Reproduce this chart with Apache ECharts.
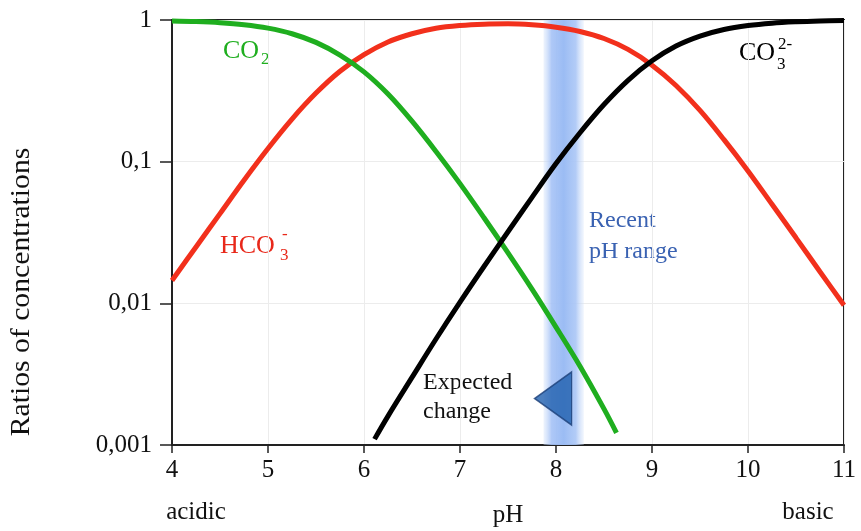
<!DOCTYPE html>
<html>
<head>
<meta charset="utf-8">
<script src="https://cdn.jsdelivr.net/npm/echarts@6/dist/echarts.min.js"></script>
<style>html,body{margin:0;padding:0;background:#fff}#c{width:861px;height:531px}</style>
</head>
<body>
<div id="c"></div>
<script>
// ---- data ----
const pHRed   = [4,4.25,4.5,4.75,5,5.25,5.5,5.75,6,6.25,6.5,6.75,7,7.25,7.5,7.75,8,8.25,8.5,8.75,9,9.25,9.5,9.75,10,10.25,10.5,10.75,11];
const hco3Values = [0.0145,0.025,0.043,0.074,0.124,0.20,0.305,0.435,0.57,0.70,0.80,0.875,0.915,0.935,0.94,0.925,0.89,0.83,0.74,0.62,0.48,0.345,0.23,0.143,0.086,0.050,0.029,0.0167,0.0097];
const pHGreen = [4,4.25,4.5,4.75,5,5.25,5.5,5.75,6,6.25,6.5,6.75,7,7.25,7.5,7.75,8,8.25,8.5,8.63];
const co2Values = [0.985,0.975,0.957,0.926,0.876,0.80,0.695,0.565,0.43,0.30,0.193,0.118,0.07,0.0402,0.0227,0.0126,0.0068,0.0036,0.0018,0.00122];
const pHBlack = [6.11,6.25,6.5,6.75,7,7.25,7.5,7.75,8,8.25,8.5,8.75,9,9.25,9.5,9.75,10,10.25,10.5,10.75,11];
const co3Values = [0.0011,0.0016,0.003,0.0056,0.0102,0.0182,0.032,0.056,0.097,0.16,0.253,0.375,0.515,0.655,0.77,0.857,0.914,0.95,0.971,0.984,0.991];
const recentPHRange = [7.87, 8.29];
const expectedChange = [7.97, 0.00213];
const yTickLabels = {'-3':'0,001','-2':'0,01','-1':'0,1','0':'1'};
const xTicks = [4,5,6,7,8,9,10,11];

const pair = (xs, ys) => xs.map((x,i)=>[x, ys[i]]);
const SERIF = '"Liberation Serif","DejaVu Serif",serif';

const chart = echarts.init(document.getElementById('c'), null, {renderer:'canvas'});
chart.setOption({
  animation:false,
  backgroundColor:'#fff',
  grid:{left:172,right:17,top:20,bottom:86,outerBoundsMode:'none',containLabel:false,show:true,borderColor:'#222',borderWidth:2,backgroundColor:'transparent'},
  xAxis:{
    type:'value',min:xTicks[0],max:xTicks[xTicks.length-1],interval:1,
    name:'pH',nameLocation:'middle',nameGap:58,
    nameTextStyle:{fontFamily:SERIF,fontSize:25,color:'#111'},
    axisLine:{lineStyle:{color:'#222',width:2}},
    axisTick:{length:8,lineStyle:{color:'#222',width:1.5}},
    axisLabel:{fontFamily:SERIF,fontSize:25,color:'#111',margin:13},
    splitLine:{show:true,lineStyle:{color:'#ececec',width:1}}
  },
  yAxis:{
    type:'log',logBase:10,min:0.001,max:1,
    axisLine:{show:true,lineStyle:{color:'#222',width:2}},
    axisTick:{show:true,length:12,lineStyle:{color:'#222',width:1.5}},
    minorTick:{show:false},
    axisLabel:{fontFamily:SERIF,fontSize:25,color:'#111',margin:20,
      formatter:v=>yTickLabels[String(Math.round(Math.log10(v)))] || ''},
    splitLine:{show:true,lineStyle:{color:'#ececec',width:1}}
  },
  series:[
    {type:'line',name:'HCO3-',data:pair(pHRed,hco3Values),smooth:0.35,showSymbol:false,
     lineStyle:{color:'#f2301c',width:5},z:3,
     markArea:{silent:true,itemStyle:{color:{type:'linear',x:0,y:0,x2:1,y2:0,colorStops:[
        {offset:0,color:'rgba(205,222,250,0.35)'},{offset:0.2,color:'rgba(165,194,246,0.9)'},
        {offset:0.5,color:'rgba(155,188,244,1)'},{offset:0.8,color:'rgba(170,198,246,0.9)'},
        {offset:1,color:'rgba(210,225,250,0.3)'}]}},
       data:[[{xAxis:recentPHRange[0]},{xAxis:recentPHRange[1]}]]}},
    {type:'line',name:'CO2',data:pair(pHGreen,co2Values),smooth:0.35,showSymbol:false,
     lineStyle:{color:'#1fae1f',width:5},z:4},
    {type:'line',name:'CO3 2-',data:pair(pHBlack,co3Values),smooth:0.35,showSymbol:false,
     lineStyle:{color:'#000',width:5},z:5},
    {type:'scatter',name:'Expected change',data:[expectedChange],symbol:'triangle',
     symbolRotate:90,symbolSize:[53,37],
     itemStyle:{color:'#1f5fae',borderColor:'#1a3e78',borderWidth:1.5},z:6}
  ],
  graphic:[
    {type:'text',x:22,y:292,rotation:Math.PI/2,scaleX:1.1,style:{text:'Ratios of concentrations',fontFamily:SERIF,fontSize:27,fill:'#111',align:'center',verticalAlign:'middle'}},
    {type:'text',x:196,y:512,style:{text:'acidic',fontFamily:SERIF,fontSize:25,fill:'#111',align:'center',verticalAlign:'middle'}},
    {type:'text',x:808,y:512,style:{text:'basic',fontFamily:SERIF,fontSize:25,fill:'#111',align:'center',verticalAlign:'middle'}},
    // CO2
    {type:'text',x:223,y:51,style:{text:'CO',fontFamily:SERIF,fontSize:26,fill:'#1fae1f',verticalAlign:'middle'}},
    {type:'text',x:261,y:60,style:{text:'2',fontFamily:SERIF,fontSize:17,fill:'#1fae1f',verticalAlign:'middle'}},
    // HCO3-
    {type:'text',x:220,y:246,style:{text:'HCO',fontFamily:SERIF,fontSize:26,fill:'#e8281a',verticalAlign:'middle'}},
    {type:'text',x:280,y:256,style:{text:'3',fontFamily:SERIF,fontSize:17,fill:'#e8281a',verticalAlign:'middle'}},
    {type:'text',x:282,y:235,style:{text:'-',fontFamily:SERIF,fontSize:17,fill:'#e8281a',verticalAlign:'middle'}},
    // CO3 2-
    {type:'text',x:739,y:53,style:{text:'CO',fontFamily:SERIF,fontSize:26,fill:'#000',verticalAlign:'middle'}},
    {type:'text',x:777,y:65,style:{text:'3',fontFamily:SERIF,fontSize:17,fill:'#000',verticalAlign:'middle'}},
    {type:'text',x:778,y:45,style:{text:'2-',fontFamily:SERIF,fontSize:17,fill:'#000',verticalAlign:'middle'}},
    // annotations
    {type:'text',x:589,y:221,style:{text:'Recent',fontFamily:SERIF,fontSize:24,fill:'#3a62b2',verticalAlign:'middle'}},
    {type:'text',x:589,y:252,style:{text:'pH range',fontFamily:SERIF,fontSize:24,fill:'#3a62b2',verticalAlign:'middle'}},
    {type:'text',x:423,y:383,style:{text:'Expected',fontFamily:SERIF,fontSize:24,fill:'#111',verticalAlign:'middle'}},
    {type:'text',x:423,y:412,style:{text:'change',fontFamily:SERIF,fontSize:24,fill:'#111',verticalAlign:'middle'}}
  ]
});
</script>
</body>
</html>
